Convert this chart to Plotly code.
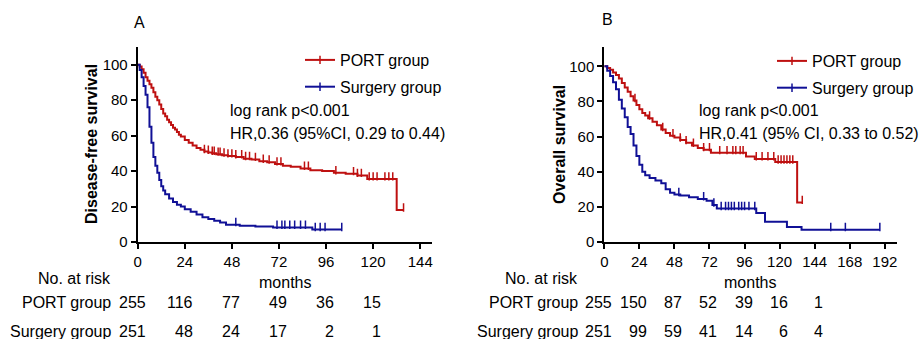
import numpy as np
import plotly.graph_objects as go

# ---------------- Data ----------------
# Panel A: Disease-free survival
dfs_port_t = [0, 1, 2, 3, 4, 5, 6, 7, 8, 9, 10, 11, 12, 13, 14, 15, 16, 17, 18, 19, 20, 21, 22, 24,
              26, 28, 30, 32, 34, 36, 38, 40, 43, 46, 50, 54, 58, 62, 66, 70, 74, 78, 83, 88, 94,
              100, 106, 112, 117, 132, 135.5]
dfs_port_s = [100, 99, 97.5, 95.5, 93, 91, 89, 87, 84.5, 82, 80, 77.5, 75, 72.5, 71, 69, 67.5, 66,
              64.5, 63.5, 62, 60.5, 59.5, 57.5, 56, 54.5, 53, 52, 51, 50.5, 50, 49.5, 49, 48.5, 48,
              47, 46.5, 45.5, 45, 44, 43, 42.5, 41.5, 40.5, 40, 39, 38.5, 37.5, 35.5, 18, 18]
dfs_port_cens = [34, 36, 38, 39, 41, 42, 44, 46, 48, 50, 53, 55, 57, 60, 64, 67, 71, 73, 85, 87,
                 101, 110, 112, 114, 118, 120, 122, 126, 128, 130, 135.5]

dfs_surg_t = [0, 1, 2, 3, 4, 5, 6, 7, 8, 9, 10, 11, 12, 13, 14, 16, 18, 20, 22, 24, 27, 30, 33,
              36, 39, 42, 45, 52, 60, 69, 89, 104]
dfs_surg_s = [100, 97, 93, 88, 83, 76, 65, 56, 48, 43, 39, 35, 31.5, 29, 27, 24.5, 22.5, 21, 20,
              18.5, 17, 15.5, 14, 13, 12, 11, 9.8, 9.2, 8.8, 8.2, 7, 7]
dfs_surg_cens = [50, 71, 73.5, 75, 77.5, 80, 83, 85.5, 90.5, 93, 95.5, 104]

# Panel B: Overall survival
os_port_t = [0, 2, 4, 6, 8, 10, 12, 14, 16, 18, 20, 22, 24, 26, 28, 30, 33, 36, 39, 42, 45, 48,
             52, 56, 60, 64, 68, 73, 97, 103, 117, 132, 135.5]
os_port_s = [100, 99, 98, 96.5, 95, 93, 90.5, 88, 85.5, 83, 80.5, 78, 75.5, 73.5, 72, 70.5, 68.5,
             66.5, 64, 62, 60.5, 59.5, 58, 56.5, 55, 53.5, 52.5, 50.8, 48.7, 47.3, 45.5, 22.5, 22.5]
os_port_cens = [21, 31, 40, 47, 52, 56, 61, 68, 72, 79, 84, 88, 90, 93, 95, 104, 108, 112, 116,
                119, 121, 123, 125, 127, 129, 135.5]

os_surg_t = [0, 2, 4, 6, 8, 10, 12, 14, 16, 18, 20, 22, 24, 26, 28, 31, 35, 39, 42, 45, 48, 52,
             58, 64, 70, 74, 77, 104, 110, 125, 135, 188.6]
os_surg_s = [100, 97.5, 94.5, 91, 87, 81, 76, 71, 65.5, 61.5, 55, 49, 44, 40, 38, 36.5, 35, 33.5,
             30, 28, 27, 26.5, 25.5, 24.5, 23.5, 21, 19, 16.5, 11.5, 8.5, 7, 7]
os_surg_cens = [51, 68, 75, 80, 83, 85, 87, 89, 92, 94, 96, 99, 103, 155, 165, 188.6]

# Risk tables
risk_a_times = [0, 24, 48, 72, 96, 120]
risk_a_port = [255, 116, 77, 49, 36, 15]
risk_a_surg = [251, 48, 24, 17, 2, 1]
risk_b_times = [0, 24, 48, 72, 96, 120, 144]
risk_b_port = [255, 150, 87, 52, 39, 16, 1]
risk_b_surg = [251, 99, 59, 41, 14, 6, 4]

xticks_a = [0, 24, 48, 72, 96, 120, 144]
xticks_b = [0, 24, 48, 72, 96, 120, 144, 168, 192]
yticks = [0, 20, 40, 60, 80, 100]

RED = "rgb(190,16,16)"
BLUE = "rgb(16,16,150)"
FONT = "Liberation Sans, Arial, sans-serif"
W, H = 919, 339
TICK_LIFT = 1.5  # lift censor ticks so they sit on top of the curve (style only)


def step_at(ts, ss, times):
    ts = np.asarray(ts)
    ss = np.asarray(ss)
    idx = np.searchsorted(ts, np.asarray(times), side="right") - 1
    idx = np.clip(idx, 0, len(ss) - 1)
    return ss[idx]


fig = go.Figure()


def add_group(t, s, cens, color, name, xa, ya, legend):
    fig.add_trace(go.Scatter(x=t, y=s, mode="lines", line=dict(color=color, width=2, shape="hv"),
                             xaxis=xa, yaxis=ya, showlegend=False, hoverinfo="skip"))
    fig.add_trace(go.Scatter(x=cens, y=step_at(t, s, cens) + TICK_LIFT, mode="markers",
                             marker=dict(symbol="line-ns", size=6, line=dict(color=color, width=1.5)),
                             xaxis=xa, yaxis=ya, showlegend=False, hoverinfo="skip"))
    fig.add_trace(go.Scatter(x=[None], y=[None], mode="lines+markers", name=name,
                             line=dict(color=color, width=2),
                             marker=dict(symbol="line-ns", size=6, line=dict(color=color, width=1.5)),
                             xaxis=xa, yaxis=ya, legend=legend, legendgroup=name + legend))


add_group(dfs_port_t, dfs_port_s, dfs_port_cens, RED, "PORT group", "x", "y", "legend")
add_group(dfs_surg_t, dfs_surg_s, dfs_surg_cens, BLUE, "Surgery group", "x", "y", "legend")
add_group(os_port_t, os_port_s, os_port_cens, RED, "PORT group", "x2", "y2", "legend2")
add_group(os_surg_t, os_surg_s, os_surg_cens, BLUE, "Surgery group", "x2", "y2", "legend2")

ybot, ytop = 1 - 242 / H, 1 - 47 / H
axis_common = dict(showgrid=False, zeroline=False, showline=True, linecolor="black", linewidth=2,
                   ticks="outside", ticklen=5, tickwidth=2, tickcolor="black",
                   tickfont=dict(family=FONT, size=15, color="black"))

fig.update_layout(
    width=W, height=H, margin=dict(l=0, r=0, t=0, b=0, autoexpand=False),
    paper_bgcolor="white", plot_bgcolor="white",
    font=dict(family=FONT, color="black"),
    xaxis=dict(domain=[137.7 / W, 432 / W], range=[0, 150], tickvals=xticks_a, anchor="y",
               **axis_common),
    yaxis=dict(domain=[ybot, ytop], range=[0, 110], tickvals=yticks, anchor="x", **axis_common),
    xaxis2=dict(domain=[604.3 / W, 896.5 / W], range=[0, 200], tickvals=xticks_b, anchor="y2",
                **axis_common),
    yaxis2=dict(domain=[ybot, ytop], range=[0, 111], tickvals=yticks, anchor="x2", **axis_common),
    legend=dict(x=300 / W, y=1 - 43 / H, xanchor="left", yanchor="top", bgcolor="rgba(0,0,0,0)",
                font=dict(family=FONT, size=16, color="black"), tracegroupgap=3, itemwidth=30),
    legend2=dict(x=772 / W, y=1 - 44 / H, xanchor="left", yanchor="top", bgcolor="rgba(0,0,0,0)",
                 font=dict(family=FONT, size=16, color="black"), tracegroupgap=3, itemwidth=30),
)

ann = []


def txt(x, y, text, size=16, xanchor="left", bold=False, angle=0, xref="paper", xshift=0):
    ann.append(dict(x=x, y=y, xref=xref, yref="paper", text=("<b>%s</b>" % text) if bold else text,
                    showarrow=False, xanchor=xanchor, yanchor="middle", textangle=angle,
                    xshift=xshift, font=dict(family=FONT, size=size, color="black")))


# Panel labels
txt(132 / W, 1 - 22 / H, "A")
txt(600 / W, 1 - 20 / H, "B")
# Y titles
txt(91 / W, 1 - 144 / H, "Disease-free survival", bold=True, angle=-90, xanchor="center")
txt(560 / W, 1 - 145 / H, "Overall survival", bold=True, angle=-90, xanchor="center")
# Stats text
txt(228 / W, 1 - 110 / H, "log rank p<0.001")
txt(228 / W, 1 - 133 / H, "HR,0.36 (95%CI, 0.29 to 0.44)")
txt(697 / W, 1 - 110 / H, "log rank p<0.001")
txt(697 / W, 1 - 133 / H, "HR,0.41 (95% CI, 0.33 to 0.52)")
# x titles
txt(285 / W, 1 - 282 / H, "months", xanchor="center")
txt(750 / W, 1 - 282 / H, "months", xanchor="center")
# Risk table labels
for xr in (113, 580):
    txt(xr / W, 1 - 278 / H, "No. at risk", xanchor="right")
    txt(xr / W, 1 - 302 / H, "PORT group", xanchor="right")
    txt(xr / W, 1 - 331 / H, "Surgery group", xanchor="right")

for t, p, s in zip(risk_a_times, risk_a_port, risk_a_surg):
    txt(t, 1 - 302 / H, str(p), xanchor="right", xref="x", xshift=10)
    txt(t, 1 - 331 / H, str(s), xanchor="right", xref="x", xshift=10)
for t, p, s in zip(risk_b_times, risk_b_port, risk_b_surg):
    txt(t, 1 - 302 / H, str(p), xanchor="right", xref="x2", xshift=10)
    txt(t, 1 - 331 / H, str(s), xanchor="right", xref="x2", xshift=10)

fig.update_layout(annotations=ann)
fig.write_html("out.html", config={"displayModeBar": False},
               post_script="document.body.style.margin='0';document.body.style.overflow='hidden';")
